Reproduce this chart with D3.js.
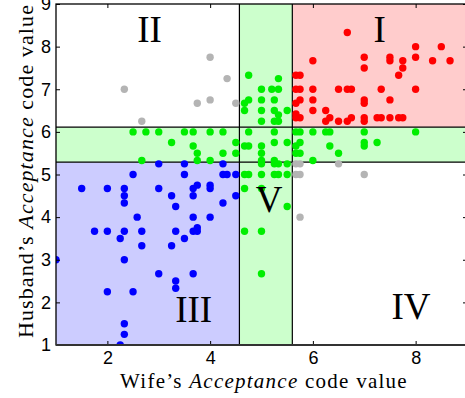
<!DOCTYPE html>
<html>
<head>
<meta charset="utf-8">
<script src="https://cdn.jsdelivr.net/npm/d3@7"></script>
<style>
  body { margin: 0; background: #fff; }
  svg { display: block; }
</style>
</head>
<body>
<svg id="svg" width="465" height="398"></svg>
<script>
// region boundaries (code values)
const xCuts = [4.57, 5.6];
const yCuts = [5.29, 6.11];

const xTicks = [2, 4, 6, 8];
const yTicks = [1, 2, 3, 4, 5, 6, 7, 8, 9];

// [wife, husband]
const redPts = [
  [6.67, 8.33], [8, 8], [8.5, 8], [6, 7.67], [7, 7.75], [7, 7.5], [7.5, 7.75], [7.5, 7.67],
  [7.75, 7.67], [7.75, 7.5], [7.67, 7.33], [8, 7.75], [8.33, 7.67], [8.67, 7.67],
  [5.67, 7.33], [5.75, 7.33], [5.67, 7], [5.75, 7], [6, 7], [6.5, 7], [6.67, 7], [6.75, 7],
  [7.33, 7], [8, 7], [5.75, 6.75], [6, 6.75], [7, 6.75], [7.5, 6.75], [5.67, 6.67], [7, 6.67],
  [6, 6.5], [6.25, 6.5], [5.67, 6.42], [5.75, 6.33], [5.67, 6.33], [6.25, 6.25], [6.33, 6.33],
  [6.5, 6.25], [6.67, 6.25], [6.75, 6.33], [7, 6.33], [7, 6.25], [7.25, 6.33], [7.33, 6.33],
  [7.5, 6.33], [7.67, 6.33], [7.75, 6.33]
];

const greenPts = [
  [4.75, 7.33], [5.33, 7.25], [5, 7], [5.2, 7], [5.33, 7], [4.75, 6.75], [4.67, 6.67], [5, 6.75],
  [5.25, 6.75], [4.67, 6.5], [5, 6.5], [5.25, 6.5], [5.5, 6.5], [5.33, 6.4], [5, 6.25],
  [5.25, 6.25], [5.33, 6.25],
  [2.5, 6], [2.75, 6], [3, 6], [3.5, 6], [3.67, 6], [4, 6], [4.25, 6], [4.75, 6], [5.25, 6],
  [5.67, 6], [5.75, 6], [6, 6], [6.25, 6], [6.33, 6], [7, 6], [8, 6],
  [3.25, 5.75], [4.5, 5.75], [5.25, 5.75], [5.5, 5.75], [5.75, 5.75], [7, 5.75], [7.25, 5.75],
  [3.67, 5.67], [4.67, 5.67], [4.75, 5.67], [5, 5.67], [5.67, 5.67], [6.33, 5.67], [7, 5.67],
  [3.75, 5.5], [4.25, 5.5], [4.5, 5.5], [5, 5.5], [5.67, 5.5], [5.75, 5.5], [6.5, 5.5],
  [2.67, 5.33], [3.75, 5.33], [4, 5.33], [5, 5.33], [5.25, 5.33], [6, 5.33],
  [5, 5.25], [5.25, 5.25], [5.33, 5.25], [5.5, 5.25],
  [4.67, 5], [4.75, 5], [5, 5], [5.25, 5], [5.33, 5], [5.5, 5],
  [4.67, 4.67], [5, 4.67], [5.5, 4.25], [4.67, 3.67], [5, 3.67], [5, 2.67]
];

const bluePts = [
  [3, 5.25], [3.5, 5.25], [4.25, 5.25], [2.5, 5], [3.5, 5], [4.25, 5], [4.33, 5], [4.5, 5],
  [3.75, 4.75], [4, 4.75], [1.5, 4.67], [2, 4.67], [2.33, 4.67], [3, 4.67], [3.67, 4.67],
  [4, 4.67], [2.33, 4.5], [2.33, 4.33], [3.25, 4.5], [3.67, 4.5], [4.5, 4.5], [4.25, 4.33],
  [3.33, 4.25], [2.58, 4], [3.67, 4], [4, 4], [1.75, 3.67], [2, 3.67], [2.33, 3.67],
  [2.67, 3.67], [3.75, 3.75], [3.33, 3.67], [3.67, 3.67], [3.75, 3.67], [2.25, 3.5], [3.5, 3.5],
  [2.67, 3.33], [3.25, 3.33], [1, 3], [2.33, 3], [3, 2.67], [3.67, 2.67], [3.33, 2.5],
  [3.33, 2.33], [2, 2.25], [2.5, 2.25], [2.33, 1.5], [2.33, 1.25], [2.25, 1]
];

const greyPts = [
  [2.33, 7], [2.67, 6.25], [4, 7.75], [4.33, 7.25], [3.75, 6.67], [4, 6.75], [4.5, 6.67],
  [5.67, 5.25], [5.75, 5.25], [5.67, 5], [5.75, 5], [6.5, 5.25], [7, 5], [5.75, 4]
];

const svg = d3.select('#svg');
const pLeft = 56, pRight = 467, pTop = 4, pBottom = 345;

const x = d3.scaleLinear().domain([1, 9]).range([pLeft, pRight]);
const y = d3.scaleLinear().domain([1, 9]).range([pBottom, pTop]);

svg.append('clipPath').attr('id', 'plot')
  .append('rect')
  .attr('x', pLeft).attr('y', pTop)
  .attr('width', pRight - pLeft).attr('height', pBottom - pTop);

const g = svg.append('g').attr('clip-path', 'url(#plot)');

// shaded regions
const regions = [
  { x0: xCuts[1], x1: 9, y0: yCuts[1], y1: 9, fill: '#ffcccc' },
  { x0: 1, x1: xCuts[0], y0: 1, y1: yCuts[0], fill: '#ccccff' },
  { x0: xCuts[0], x1: xCuts[1], y0: 1, y1: 9, fill: '#ccffcc' },
  { x0: 1, x1: 9, y0: yCuts[0], y1: yCuts[1], fill: '#ccffcc' }
];
g.selectAll('rect.region')
  .data(regions)
  .enter().append('rect')
  .attr('class', 'region')
  .attr('x', d => x(d.x0))
  .attr('y', d => y(d.y1))
  .attr('width', d => x(d.x1) - x(d.x0))
  .attr('height', d => y(d.y0) - y(d.y1))
  .attr('fill', d => d.fill);

g.selectAll('line.vcut')
  .data(xCuts)
  .enter().append('line')
  .attr('x1', d => x(d)).attr('x2', d => x(d))
  .attr('y1', pTop).attr('y2', pBottom)
  .attr('stroke', '#000').attr('stroke-width', 1.2);

g.selectAll('line.hcut')
  .data(yCuts)
  .enter().append('line')
  .attr('y1', d => y(d)).attr('y2', d => y(d))
  .attr('x1', pLeft).attr('x2', pRight)
  .attr('stroke', '#000').attr('stroke-width', 1.2);

// points
const groups = [
  { pts: greyPts, color: '#b4b4b4' },
  { pts: greenPts, color: '#00ee00' },
  { pts: bluePts, color: '#0000ff' },
  { pts: redPts, color: '#ff0000' }
];
groups.forEach(grp => {
  g.selectAll(null)
    .data(grp.pts)
    .enter().append('circle')
    .attr('cx', d => x(d[0]))
    .attr('cy', d => y(d[1]))
    .attr('r', 3.7)
    .attr('fill', grp.color);
});

// axes
const tickFont = '"Liberation Sans", Arial, sans-serif';

svg.append('g')
  .attr('transform', 'translate(0,' + pBottom + ')')
  .call(d3.axisBottom(x).tickValues(xTicks).tickFormat(d3.format('d'))
    .tickSizeInner(-4).tickSizeOuter(0).tickPadding(6));
svg.append('g')
  .attr('transform', 'translate(' + pLeft + ',0)')
  .call(d3.axisLeft(y).tickValues(yTicks).tickFormat(d3.format('d'))
    .tickSizeInner(-4).tickSizeOuter(0).tickPadding(5));
svg.append('g')
  .attr('transform', 'translate(0,' + pTop + ')')
  .call(d3.axisTop(x).tickValues(xTicks).tickFormat('').tickSizeInner(-4).tickSizeOuter(0));
svg.append('g')
  .attr('transform', 'translate(' + pRight + ',0)')
  .call(d3.axisRight(y).tickValues(yTicks).tickFormat('').tickSizeInner(-4).tickSizeOuter(0));

svg.selectAll('.domain').remove();
svg.selectAll('.tick line').attr('stroke', '#000');
svg.selectAll('.tick text')
  .attr('fill', '#000')
  .style('font-family', tickFont)
  .style('font-size', '18px');

// frame
svg.append('rect')
  .attr('x', pLeft).attr('y', pTop)
  .attr('width', pRight - pLeft).attr('height', pBottom - pTop)
  .attr('fill', 'none').attr('stroke', '#000').attr('stroke-width', 1.3);
svg.append('line')
  .attr('x1', pLeft).attr('x2', pRight)
  .attr('y1', pBottom).attr('y2', pBottom)
  .attr('stroke', '#333').attr('stroke-width', 2);

// region numerals
const serif = '"Liberation Serif", "Times New Roman", serif';
const labels = [
  { t: 'I', x: 7.3, y: 8.1 },
  { t: 'II', x: 2.82, y: 8.1 },
  { t: 'III', x: 3.68, y: 1.55 },
  { t: 'IV', x: 7.91, y: 1.62 },
  { t: 'V', x: 5.15, y: 4.11 }
];
svg.selectAll('text.roman')
  .data(labels)
  .enter().append('text')
  .attr('class', 'roman')
  .attr('x', d => x(d.x))
  .attr('y', d => y(d.y))
  .attr('text-anchor', 'middle')
  .style('font-family', serif)
  .style('font-size', '37px')
  .text(d => d.t);

// axis titles
const xt = svg.append('text')
  .attr('x', 264).attr('y', 388)
  .attr('text-anchor', 'middle')
  .style('font-family', serif)
  .style('font-size', '21px')
  .style('letter-spacing', '1.25px');
xt.append('tspan').text('Wife\u2019s ');
xt.append('tspan').style('font-style', 'italic').text('Acceptance');
xt.append('tspan').text(' code value');

const yt = svg.append('text')
  .attr('transform', 'translate(33,171) rotate(-90)')
  .attr('text-anchor', 'middle')
  .style('font-family', serif)
  .style('font-size', '22px')
  .style('letter-spacing', '1.1px');
yt.append('tspan').text('Husband\u2019s ');
yt.append('tspan').style('font-style', 'italic').text('Acceptance');
yt.append('tspan').text(' code value');
</script>
</body>
</html>
